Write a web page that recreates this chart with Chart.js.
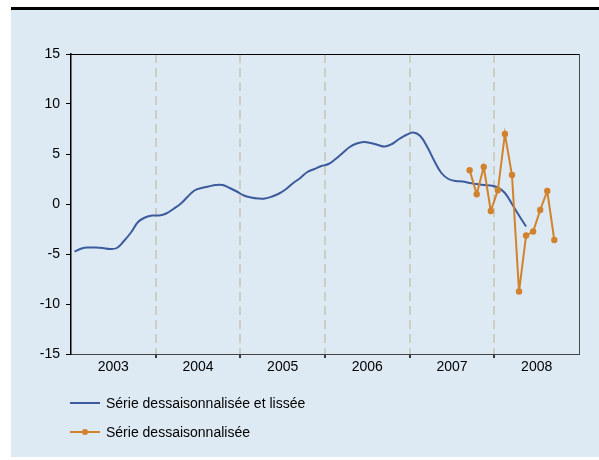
<!DOCTYPE html>
<html>
<head>
<meta charset="utf-8">
<script src="https://cdn.jsdelivr.net/npm/chart.js@4/dist/chart.umd.min.js"></script>
<style>
body{margin:0;background:#fff;font-family:"Liberation Sans",Arial,sans-serif;}
#panel{position:absolute;left:11px;top:7px;width:588px;height:450px;background:#deeaf3;border-top:3px solid #000;box-sizing:border-box;}
#chart{position:absolute;left:0;top:0;}
.leg{position:absolute;left:70px;width:400px;height:16px;font-size:14px;line-height:16px;color:#000;}
.leg .sw{position:absolute;left:0;top:7px;width:30px;height:2px;}
.leg .dot{position:absolute;left:12px;top:5px;width:6px;height:6px;border-radius:3px;}
.leg .t{position:absolute;left:36px;top:0;white-space:nowrap;}
</style>
</head>
<body>
<div id="panel"></div>
<canvas id="chart" width="599" height="460"></canvas>
<div class="leg" style="top:395px"><div class="sw" style="background:#3b5b9d"></div><span class="t">Série dessaisonnalisée et lissée</span></div>
<div class="leg" style="top:424px"><div class="sw" style="background:#d2822c"></div><div class="dot" style="background:#d2822c"></div><span class="t">Série dessaisonnalisée</span></div>
<script>
var yearLabels = ['2003','2004','2005','2006','2007','2008'];
var yTicks = [-15,-10,-5,0,5,10,15];

// monthly, from january 2003 to may 2008
var smoothStart = {year:2003, month:1};
var smoothValues = [
	-4.75,-4.45,-4.35,-4.35,-4.4,-4.5,-4.4,-3.7,-2.85,-1.8,-1.35,-1.15,
	-1.15,-0.95,-0.5,0.0,0.7,1.35,1.6,1.75,1.9,1.9,1.6,1.25,
	0.85,0.65,0.55,0.55,0.75,1.05,1.5,2.1,2.6,3.2,3.5,3.8,
	4.0,4.5,5.1,5.7,6.05,6.2,6.1,5.9,5.75,6.0,6.5,6.9,
	7.15,6.8,5.7,4.3,3.1,2.5,2.3,2.25,2.1,2.0,1.9,1.85,
	1.65,1.1,0.0,-1.15,-2.25
];

// monthly, from september 2007 to september 2008
var rawStart = {year:2007, month:9};
var rawValues = [3.37,0.97,3.7,-0.7,1.37,7.0,2.9,-8.75,-3.15,-2.75,-0.6,1.3,-3.6];

function toPoints(start, values){
	var pts=[];
	for(var i=0;i<values.length;i++){
		var m = start.month - 1 + i;
		pts.push({x: start.year + (m + 0.5)/12, y: values[i]});
	}
	return pts;
}

var firstYear = parseInt(yearLabels[0]);
var lastYear = parseInt(yearLabels[yearLabels.length-1]) + 1;

function isBoundary(v){ return Math.abs(v - Math.round(v)) < 1e-6; }

var framePlugin = {
	id:'frame',
	afterDraw:function(chart){
		var a = chart.chartArea, ctx = chart.ctx;
		ctx.save();
		ctx.strokeStyle = '#000';
		ctx.lineWidth = 1;
		ctx.beginPath();
		ctx.moveTo(a.left, a.top + 0.5);
		ctx.lineTo(a.right, a.top + 0.5);
		ctx.stroke();
		ctx.strokeStyle = '#4a4a4a';
		ctx.beginPath();
		ctx.moveTo(a.right + 0.5, a.top);
		ctx.lineTo(a.right + 0.5, a.bottom);
		ctx.stroke();
		ctx.restore();
	}
};

var ctx = document.getElementById('chart').getContext('2d');
var chart = new Chart(ctx, {
	type:'line',
	data:{
		datasets:[{
			label:'Série dessaisonnalisée',
			data: toPoints(rawStart, rawValues),
			borderColor:'#d2822c',
			backgroundColor:'#d2822c',
			borderWidth:2,
			pointRadius:3.2,
			pointBorderWidth:0,
			tension:0,
			order:0
		},{
			label:'Série dessaisonnalisée et lissée',
			data: toPoints(smoothStart, smoothValues),
			borderColor:'#3b5b9d',
			backgroundColor:'#3b5b9d',
			borderWidth:2,
			pointRadius:0,
			tension:0.4,
			order:1
		}]
	},
	options:{
		responsive:false,
		animation:false,
		devicePixelRatio:1,
		layout:{padding:{top:54, right:20, left:0, bottom:0}},
		plugins:{legend:{display:false}, tooltip:{enabled:false}},
		scales:{
			x:{
				type:'linear',
				min:firstYear,
				max:lastYear,
				afterBuildTicks:function(scale){
					var t=[];
					for(var y=firstYear;y<=lastYear;y+=0.5){ t.push({value:y}); }
					scale.ticks=t;
				},
				afterFit:function(scale){ scale.height = 106; },
				ticks:{
					autoSkip:false,
					maxRotation:0,
					padding:1,
					color:'#000',
					font:{family:'"Liberation Sans", Arial, sans-serif', size:14},
					callback:function(v){
						if(isBoundary(v)) return '';
						return yearLabels[Math.floor(v)-firstYear];
					}
				},
				grid:{
					lineWidth:2,
					color:function(c){
						var v = c.tick ? c.tick.value : 0;
						return (isBoundary(v) && v>firstYear && v<lastYear) ? '#cdcdc2' : 'rgba(0,0,0,0)';
					},
					tickColor:function(c){
						var v = c.tick ? c.tick.value : 0;
						return (isBoundary(v) && v>firstYear && v<lastYear) ? '#000' : 'rgba(0,0,0,0)';
					},
					tickLength:4,
					tickWidth:1.5,
					tickBorderDash:[]
				},
				border:{color:'#444', width:1, dash:[9,5]}
			},
			y:{
				min:yTicks[0],
				max:yTicks[yTicks.length-1],
				afterBuildTicks:function(scale){
					scale.ticks = yTicks.map(function(v){ return {value:v}; });
				},
				afterFit:function(scale){ scale.width = 71; },
				ticks:{
					padding:6,
					color:'#000',
					font:{family:'"Liberation Sans", Arial, sans-serif', size:14}
				},
				grid:{
					drawOnChartArea:false,
					tickLength:5,
					tickColor:'#000',
					lineWidth:1
				},
				border:{color:'#000', width:1.5}
			}
		}
	},
	plugins:[framePlugin]
});
</script>
</body>
</html>
